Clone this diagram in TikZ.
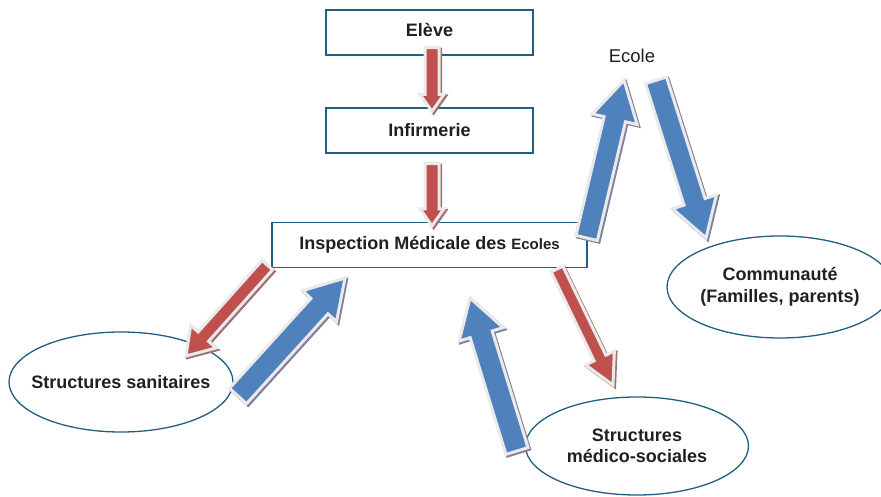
\documentclass[tikz,border=0pt]{standalone}
\usepackage{fontspec}
\setmainfont{Liberation Sans}
\usetikzlibrary{positioning,calc,shapes.geometric}
\definecolor{edge}{HTML}{1F5F7F}
\definecolor{ink}{HTML}{231F20}
\definecolor{redfill}{HTML}{C0504D}
\definecolor{bluefill}{HTML}{4F81BD}
\definecolor{rim}{HTML}{EAEAEA}
\definecolor{redshade}{HTML}{A07070}
\definecolor{blueshade}{HTML}{80809C}
\tikzset{
  lbl/.style={font=\bfseries\fontsize{18}{21.6}\selectfont, text=ink, align=center},
  box/.style={lbl, draw=edge, fill=white, line width=1.3pt, minimum height=45pt, inner sep=0pt},
  oval/.style={ellipse, draw=edge, fill=white, line width=1.3pt, inner sep=0pt},
  redblk/.style={fill=redfill, draw=rim, line width=3pt,
    preaction={draw=redshade, fill=redshade, line width=3pt, transform canvas={shift={(1.6pt,-1.6pt)}}}},
  blueblk/.style={fill=bluefill, draw=rim, line width=3pt,
    preaction={draw=blueshade, fill=blueshade, line width=3pt, transform canvas={shift={(1.6pt,-1.6pt)}}}},
}
% block arrow: #1 tail, #2 tip, #3 half shaft, #4 half head, #5 head length, #6 style
\newcommand{\blockarr}[6]{%
  \coordinate (hb) at ($(#2)!#5!(#1)$);
  \path[#6] ($(#1)!#3!90:(#2)$) -- ($(hb)!#3!90:(#2)$) -- ($(hb)!#4!90:(#2)$) -- (#2)
    -- ($(hb)!#4!-90:(#2)$) -- ($(hb)!#3!-90:(#2)$) -- ($(#1)!#3!-90:(#2)$) -- cycle;}

\begin{document}
\begin{tikzpicture}[x=1pt, y=-1pt]
  \useasboundingbox (0,0) rectangle (881,497);
  % ===================== chain =====================
  \node[box, minimum width=207pt, text depth=5pt] (eleve) at (429.5,32.5) {Elève};
  \node[box, minimum width=207pt] (infirm) at (429.5,130.5) {Infirmerie};
  \node[box, minimum width=315pt] (ime) at (429.5,245) {Inspection Médicale des {\fontsize{15}{18}\selectfont Ecoles}};
  \node[font=\fontsize{18.5}{22}\selectfont, text=ink] (ecole) at (632,56) {Ecole};

  % ===================== partners =====================
  \node[oval, minimum width=224pt, minimum height=100pt] (sanit) at (121,382) {};
  \node[lbl] at (sanit) {Structures sanitaires};
  \node[oval, minimum width=223pt, minimum height=98pt] (medsoc) at (637,446) {};
  \node[lbl] at (medsoc) {Structures\\médico-sociales};
  \node[oval, minimum width=226pt, minimum height=102pt] (commun) at (780,287) {};
  \node[lbl] at (commun) {Communauté\\(Familles,\ parents)};

  % ===================== arrows =====================
  \coordinate (r1a) at ($(eleve.south)+(2.5,-8)$);  \coordinate (r1b) at ($(infirm.north)+(2.5,4)$);
  \coordinate (r2a) at ($(infirm.south)+(2.5,10)$); \coordinate (r2b) at ($(ime.north)+(2.5,4)$);
  \coordinate (r3a) at ($(ime.south west)+(-4,-3)$); \coordinate (r3b) at (186,356);
  \coordinate (b4a) at (238,396); \coordinate (b4b) at (345,278);
  \coordinate (b5a) at (517,451); \coordinate (b5b) at (470,298);
  \coordinate (r6a) at (557,269); \coordinate (r6b) at (613,385);
  \coordinate (b7a) at ($(ime.east)+(-1,-7)$); \coordinate (b7b) at ($(ecole.south)+(-8,14)$);
  \coordinate (b8a) at ($(ecole.south)+(24,14)$); \coordinate (b8b) at (706,238);

  \blockarr{r1a}{r1b}{7pt}{12pt}{17pt}{redblk}
  \blockarr{r2a}{r2b}{7pt}{12pt}{17pt}{redblk}
  \blockarr{r3a}{r3b}{7pt}{17pt}{26pt}{redblk}
  \blockarr{b4a}{b4b}{11.5pt}{23pt}{38pt}{blueblk}
  \blockarr{b5a}{b5b}{11.5pt}{23pt}{38pt}{blueblk}
  \blockarr{r6a}{r6b}{6.5pt}{16pt}{30pt}{redblk}
  \blockarr{b7a}{b7b}{11pt}{23pt}{40pt}{blueblk}
  \blockarr{b8a}{b8b}{11pt}{23pt}{38pt}{blueblk}
\end{tikzpicture}
\end{document}
